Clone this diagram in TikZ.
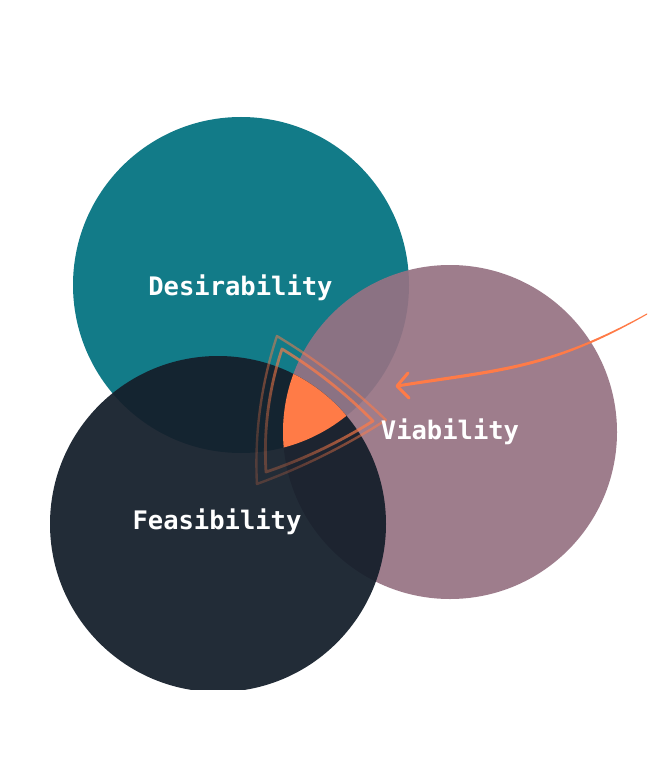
\documentclass[tikz,border=0pt]{standalone}
\usepackage{fontspec}
\newfontfamily\labelfont{DejaVu Sans Mono}
\usetikzlibrary{fadings,calc}
\definecolor{dteal}{HTML}{127B88}
\definecolor{vmauve}{HTML}{967283}
\definecolor{fdark}{HTML}{151F2B}
\definecolor{hotorange}{HTML}{FF7B47}
\tikzfading[name=ofade, top color=transparent!10, bottom color=transparent!70]
\tikzset{
  lbl/.style={text=white, inner sep=0pt, anchor=base,
    font=\labelfont\bfseries\fontsize{25.5}{30}\selectfont},
  outl/.style={draw=hotorange, line join=round, path fading=ofade, fading angle=-45},
  arrowpen/.style={draw=hotorange, line width=3pt, line cap=round, line join=round}
}
\begin{document}
\begin{tikzpicture}[x=1pt,y=-1pt]
\useasboundingbox (0,0) rectangle (671,765);
\fill[white] (0,0) rectangle (671,765);
\coordinate (cD) at (241,285);
\coordinate (cV) at (450,432);
\coordinate (cF) at (218,524);
% circles
\fill[dteal] (cD) circle[radius=168];
\fill[vmauve, opacity=0.92] (cV) circle[radius=167];
\begin{scope}
  \clip (0,0) rectangle (671,689);
  \fill[fdark, opacity=0.94] (cF) circle[radius=168];
\end{scope}
% triple intersection
\begin{scope}
  \clip (cD) circle[radius=168];
  \clip (cV) circle[radius=167];
  \fill[hotorange] (cF) circle[radius=168];
\end{scope}
% outline shapes
\coordinate (oT) at (277,336);
\coordinate (oR) at (386,420);
\coordinate (oB) at (257,484);
\coordinate (iT) at (282,349);
\coordinate (iR) at (373,421);
\coordinate (iB) at (266,472);
\path[outl, line width=2.4pt, opacity=0.75]
  (oT) .. controls (316.5,359.8) and (352.9,387.8) .. (oR)
       .. controls (345.3,446.1) and (302.3,467.5) .. (oB)
       .. controls (254.5,433.5) and (261.1,384.1) .. (oT) -- cycle;
\path[outl, line width=2.8pt]
  (iT) .. controls (315.2,369.3) and (345.6,393.3) .. (iR)
       .. controls (339.3,442.2) and (303.7,459.2) .. (iB)
       .. controls (263.4,430) and (268.8,389) .. (iT) -- cycle;
% arrow
\coordinate (arrowstart) at (647,314);
\coordinate (arrowtip) at (397,386);
\coordinate (armA) at (408,373);
\coordinate (armB) at (409,398);
\fill[hotorange]
  ($(arrowstart)+(0,-0.6)$) .. controls (547,368.3) and (497,368.3) .. ($(arrowtip)+(0,-1.5)$)
  -- ($(arrowtip)+(0,1.5)$) .. controls (497,371.7) and (547,371.7) .. ($(arrowstart)+(0,0.6)$) -- cycle;
\draw[arrowpen] (armA) -- (arrowtip) -- (armB);
% labels
\node[lbl] (tD) at (240.5,295) {Desirability};
\node[lbl] (tF) at (217,529) {Feasibility};
\node[lbl] (tV) at (450,439) {Viability};
\end{tikzpicture}
\end{document}
